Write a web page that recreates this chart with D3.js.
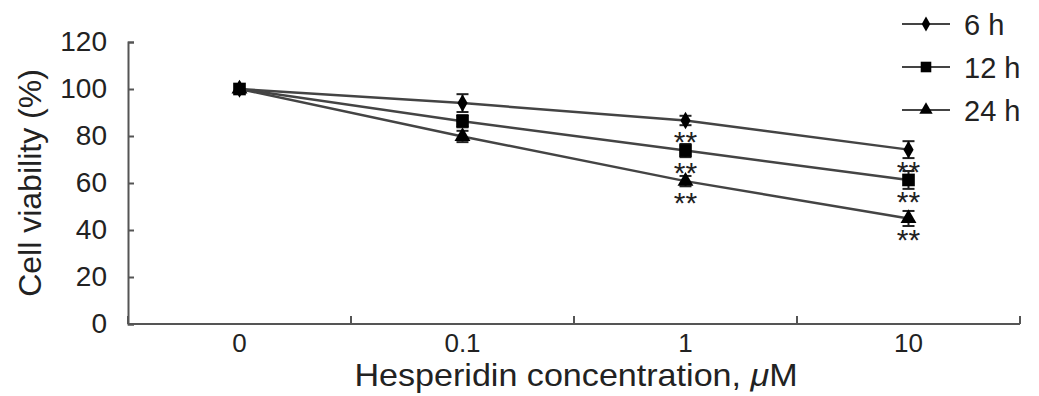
<!DOCTYPE html>
<html>
<head>
<meta charset="utf-8">
<script src="https://cdn.jsdelivr.net/npm/d3@7"></script>
<style>
    body { margin: 0; background: #fff; }
    text { font-family: "Liberation Sans", Arial, sans-serif; fill: #222; }
</style>
</head>
<body>
<div id="root"></div>
<script>
var concentrations = ["0", "0.1", "1", "10"];
var seriesNames = ["6 h", "12 h", "24 h"];
var values6h = [100, 94.0, 86.6, 74.2];
var values12h = [100, 86.3, 73.8, 61.3];
var values24h = [100, 79.8, 60.8, 44.9];
var errors6h = [0, 3.8, 2.0, 3.6];
var errors12h = [0, 2.6, 2.8, 3.8];
var errors24h = [0, 2.4, 2.2, 3.2];
// which points carry the "**" mark
var stars6h = [false, false, true, true];
var stars12h = [false, false, true, true];
var stars24h = [false, false, true, true];
var yTicks = [0, 20, 40, 60, 80, 100, 120];

var width = 1039, height = 396;
var margin = {top: 42, left: 128};
var innerW = 1020 - margin.left, innerH = 324 - margin.top;

var series = [
    {name: seriesNames[0], values: values6h, errors: errors6h, stars: stars6h, symbol: d3.symbolDiamond, size: 90},
    {name: seriesNames[1], values: values12h, errors: errors12h, stars: stars12h, symbol: d3.symbolSquare, size: 160},
    {name: seriesNames[2], values: values24h, errors: errors24h, stars: stars24h, symbol: d3.symbolTriangle, size: 110}
];

var svg = d3.select("#root").append("svg")
    .attr("width", width)
    .attr("height", height);

var g = svg.append("g")
    .attr("transform", "translate(" + margin.left + "," + margin.top + ")");

var x = d3.scaleBand().domain(concentrations).range([0, innerW]);
var y = d3.scaleLinear().domain([0, 120]).range([innerH, 0]);

// y axis, ticks pointing inside
var yAxis = g.append("g")
    .call(d3.axisLeft(y).tickValues(yTicks).tickSize(-6).tickPadding(21));
yAxis.select(".domain").attr("stroke", "#555").attr("stroke-width", 2);
yAxis.selectAll(".tick line").attr("stroke", "#555").attr("stroke-width", 2);
yAxis.selectAll("text").style("font-size", "28px").attr("fill", "#222");

// x axis line with boundary ticks
var xg = g.append("g").attr("transform", "translate(0," + innerH + ")");
xg.append("line")
    .attr("x1", 0).attr("x2", innerW)
    .attr("stroke", "#555").attr("stroke-width", 2);
var bounds = concentrations.map(function (d) { return x(d); }).concat([innerW]);
xg.selectAll(".bt")
    .data(bounds)
    .enter().append("line")
    .attr("x1", function (d) { return d; })
    .attr("x2", function (d) { return d; })
    .attr("y1", 0).attr("y2", -8)
    .attr("stroke", "#555").attr("stroke-width", 2);
xg.selectAll(".xl")
    .data(concentrations)
    .enter().append("text")
    .attr("x", function (d) { return x(d) + x.bandwidth() / 2; })
    .attr("y", 28)
    .attr("text-anchor", "middle")
    .style("font-family", "'Liberation Sans Narrow', 'Arial Narrow', sans-serif")
    .style("font-size", "26px")
    .text(function (d) { return d; });

// titles
svg.append("text")
    .attr("transform", "translate(576,386) scale(1.1,1)")
    .attr("text-anchor", "middle")
    .style("font-size", "31px")
    .html("Hesperidin concentration, <tspan font-style='italic'>μ</tspan>M");

svg.append("text")
    .attr("transform", "translate(41,183) rotate(-90)")
    .attr("text-anchor", "middle")
    .style("font-size", "32px")
    .text("Cell viability (%)");

var cx = function (i) { return x(concentrations[i]) + x.bandwidth() / 2; };
var line = d3.line()
    .x(function (d, i) { return cx(i); })
    .y(function (d) { return y(d); });

// lines
g.selectAll(".series-line")
    .data(series)
    .enter().append("path")
    .attr("fill", "none")
    .attr("stroke", "#444")
    .attr("stroke-width", 2.5)
    .attr("d", function (s) { return line(s.values); });

// draw order so the square shows on top at 0
var drawOrder = [series[0], series[2], series[1]];
drawOrder.forEach(function (s) {
    var sg = g.append("g");
    s.values.forEach(function (v, i) {
        var e = s.errors[i];
        if (e > 0) {
            sg.append("line")
                .attr("x1", cx(i)).attr("x2", cx(i))
                .attr("y1", y(v + e)).attr("y2", y(v - e))
                .attr("stroke", "#222").attr("stroke-width", 2);
            [v + e, v - e].forEach(function (t) {
                sg.append("line")
                    .attr("x1", cx(i) - 6).attr("x2", cx(i) + 6)
                    .attr("y1", y(t)).attr("y2", y(t))
                    .attr("stroke", "#222").attr("stroke-width", 2);
            });
        }
        sg.append("path")
            .attr("d", d3.symbol().type(s.symbol).size(s.size))
            .attr("transform", "translate(" + cx(i) + "," + y(v) + ")")
            .attr("fill", "#000");
        if (s.stars[i]) {
            sg.append("text")
                .attr("x", cx(i))
                .attr("y", y(v) + 32)
                .attr("text-anchor", "middle")
                .style("font-size", "30px")
                .attr("fill", "#777")
                .text("**");
        }
    });
});

// legend
var legend = svg.append("g");
series.forEach(function (s, i) {
    var ly = 24 + i * 43;
    legend.append("line")
        .attr("x1", 902).attr("x2", 950)
        .attr("y1", ly).attr("y2", ly)
        .attr("stroke", "#444").attr("stroke-width", 2);
    legend.append("path")
        .attr("d", d3.symbol().type(s.symbol).size(s.size * 0.7))
        .attr("transform", "translate(926," + ly + ")")
        .attr("fill", "#000");
    legend.append("text")
        .attr("x", 964).attr("y", ly + 11)
        .style("font-size", "29px")
        .text(s.name);
});
</script>
</body>
</html>
